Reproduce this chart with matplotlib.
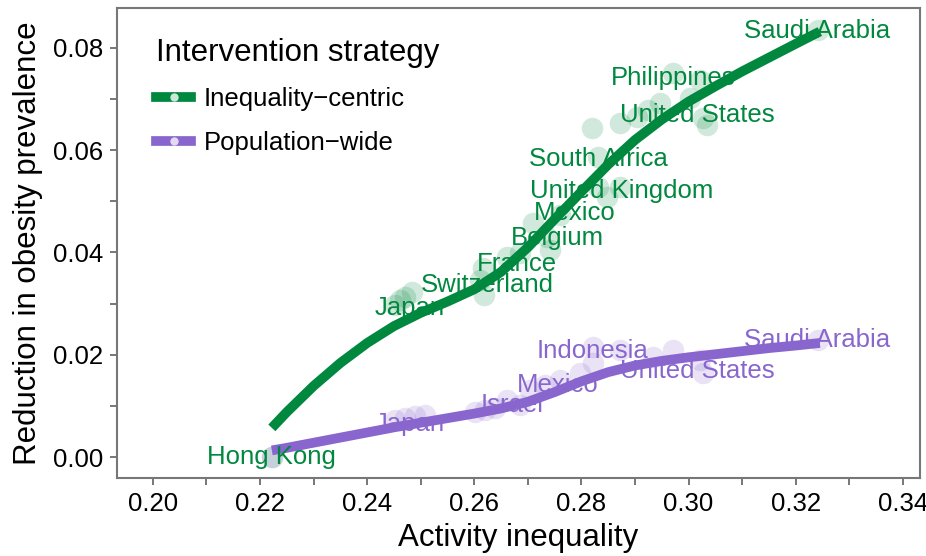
import numpy as np
import matplotlib.pyplot as plt
from matplotlib.lines import Line2D
from matplotlib.ticker import MultipleLocator

plt.rcParams['font.family'] = ['Liberation Sans', 'DejaVu Sans']

green = '#00883F'
purple = '#8966CD'

# points (activity inequality, reduction in prevalence)
ineq_x = [0.2222, 0.2452, 0.2461, 0.2470, 0.2483, 0.2610, 0.2616, 0.2618, 0.2661, 0.2685,
          0.2709, 0.2735, 0.2741, 0.2760, 0.2831, 0.2847, 0.2872, 0.2831, 0.2820, 0.2872,
          0.2903, 0.2924, 0.2946, 0.3002, 0.2971, 0.3021, 0.3027, 0.3034, 0.3241]
ineq_y = [0.0000, 0.0297, 0.0307, 0.0313, 0.0323, 0.0346, 0.0370, 0.0317, 0.0391, 0.0399,
          0.0458, 0.0430, 0.0405, 0.0473, 0.0528, 0.0509, 0.0528, 0.0587, 0.0644, 0.0653,
          0.0665, 0.0679, 0.0692, 0.0702, 0.0751, 0.0737, 0.0663, 0.0649, 0.0835]

pop_x = [0.2222, 0.2452, 0.2470, 0.2489, 0.2508, 0.2601, 0.2620, 0.2638, 0.2661, 0.2685,
         0.2704, 0.2732, 0.2760, 0.2797, 0.2821, 0.2821, 0.2872, 0.2933, 0.2971, 0.3021,
         0.3027, 0.3241]
pop_y = [0.0000, 0.0072, 0.0076, 0.0080, 0.0082, 0.0088, 0.0092, 0.0096, 0.0112, 0.0102,
         0.0131, 0.0141, 0.0151, 0.0164, 0.0215, 0.0184, 0.0209, 0.0196, 0.0209, 0.0190,
         0.0164, 0.0229]

# smoothed trends
smooth_x = [0.2222, 0.225, 0.230, 0.235, 0.240, 0.245, 0.250, 0.255, 0.260, 0.265, 0.270,
            0.275, 0.280, 0.285, 0.290, 0.295, 0.300, 0.305, 0.310, 0.315, 0.320, 0.3245]
ineq_smooth = [0.0057, 0.0088, 0.0139, 0.0184, 0.0223, 0.0256, 0.0282, 0.0304, 0.0328, 0.0362, 0.0410,
               0.0465, 0.0519, 0.0572, 0.0620, 0.0660, 0.0695, 0.0725, 0.0754, 0.0781, 0.0808, 0.0832]
pop_smooth = [0.0013, 0.0018, 0.0028, 0.0038, 0.0048, 0.0058, 0.0067, 0.0076, 0.0085, 0.0095, 0.0108,
              0.0127, 0.0148, 0.0166, 0.0179, 0.0188, 0.0195, 0.0201, 0.0207, 0.0213, 0.0218, 0.0223]

# labels
ineq_labels = ['Saudi Arabia', 'Philippines', 'United States', 'South Africa', 'United Kingdom',
               'Mexico', 'Belgium', 'France', 'Switzerland', 'Japan', 'Hong Kong']
ineq_lx = [0.3240, 0.2971, 0.3017, 0.2831, 0.2875, 0.2788, 0.2756, 0.2679, 0.2625, 0.2480, 0.2222]
ineq_ly = [0.0833, 0.0741, 0.0669, 0.0583, 0.0520, 0.0477, 0.0428, 0.0378, 0.0336, 0.0291, 0.0000]

pop_labels = ['Saudi Arabia', 'Indonesia', 'United States', 'Mexico', 'Israel', 'Japan']
pop_lx = [0.3240, 0.2820, 0.3017, 0.2756, 0.2670, 0.2480]
pop_ly = [0.0229, 0.0207, 0.0168, 0.0141, 0.0102, 0.0065]

fig = plt.figure(figsize=(9.26, 5.56), dpi=100)
ax = fig.add_axes([0.1264, 0.1403, 0.8671, 0.8453])

ax.scatter(ineq_x, ineq_y, s=240, color=green, alpha=0.18, lw=0, zorder=2)
ax.scatter(pop_x, pop_y, s=240, color=purple, alpha=0.18, lw=0, zorder=2)
ax.plot(smooth_x, ineq_smooth, color=green, lw=7, solid_capstyle='butt', zorder=3)
ax.plot(smooth_x, pop_smooth, color=purple, lw=7, solid_capstyle='butt', zorder=3)

for t, x, y in zip(ineq_labels, ineq_lx, ineq_ly):
    ax.text(x, y, t, color=green, fontsize=18.5, ha='center', va='center', zorder=4)
for t, x, y in zip(pop_labels, pop_lx, pop_ly):
    ax.text(x, y, t, color=purple, fontsize=18.5, ha='center', va='center', zorder=4)

ax.set_xlim(0.1933, 0.3432)
ax.set_ylim(-0.0041, 0.0878)
ax.xaxis.set_minor_locator(MultipleLocator(0.01))
ax.yaxis.set_minor_locator(MultipleLocator(0.01))
ax.set_xticks(np.arange(0.20, 0.341, 0.02))
ax.set_xticklabels(['0.20', '0.22', '0.24', '0.26', '0.28', '0.30', '0.32', '0.34'])
ax.set_yticks(np.arange(0.0, 0.081, 0.02))
ax.set_yticklabels(['0.00', '0.02', '0.04', '0.06', '0.08'])
ax.tick_params(which='both', length=5, width=1.4, color='#777777', labelsize=18.5, pad=5)

for s in ax.spines.values():
    s.set_color('#777777')
    s.set_linewidth(1.5)

ax.set_xlabel('Activity inequality', fontsize=22.5, labelpad=5)
ax.set_ylabel('Reduction in obesity prevalence', fontsize=22.5, labelpad=7)

handles = [Line2D([0], [0], color=green, lw=7, marker='o', markersize=6,
                  markerfacecolor='#cde8d8', markeredgewidth=0),
           Line2D([0], [0], color=purple, lw=7, marker='o', markersize=6,
                  markerfacecolor='#e2d9f3', markeredgewidth=0)]
leg = ax.legend(handles, ['Inequality\u2212centric', 'Population\u2212wide'],
                title='Intervention strategy', loc='upper left', bbox_to_anchor=(0.02, 0.985),
                frameon=False, fontsize=18.5, title_fontsize=22.5, handlelength=1.35,
                labelspacing=0.75, handletextpad=0.5)
leg._legend_box.align = 'left'

fig.savefig('out.png', dpi=100)
